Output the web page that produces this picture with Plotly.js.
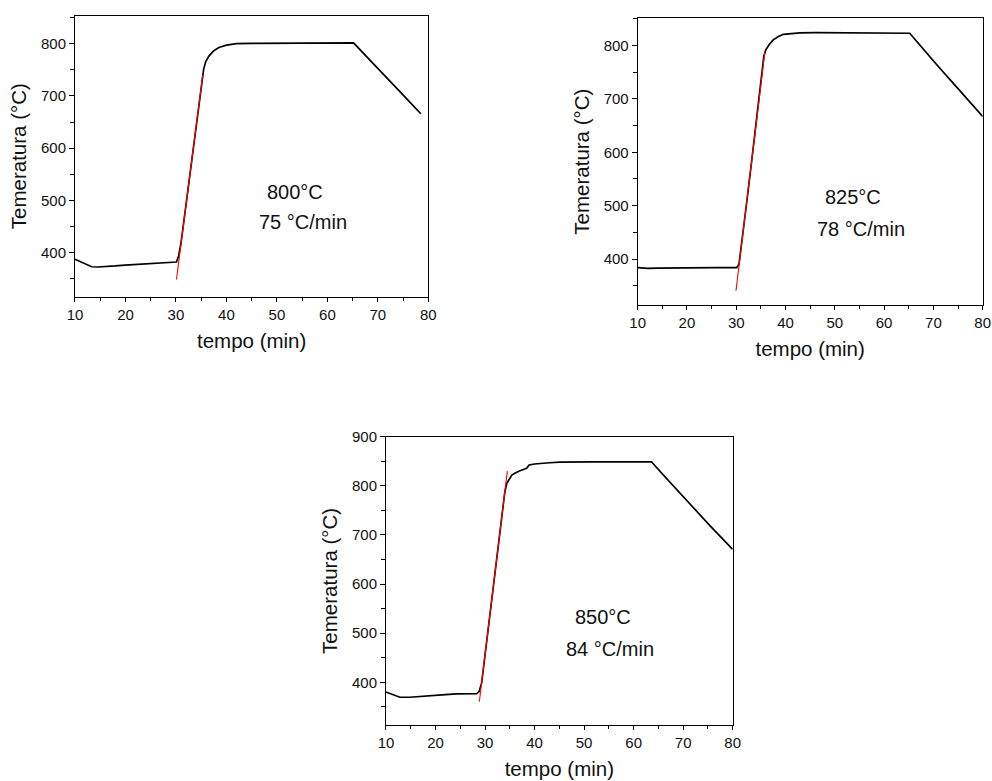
<!DOCTYPE html>
<html>
<head>
<meta charset="utf-8">
<script src="https://cdn.plot.ly/plotly-3.0.1.min.js"></script>
<style>html,body{margin:0;padding:0;background:#fff;}#chart{width:992px;height:781px;}</style>
</head>
<body>
<div id="chart"></div>
<script>
// Panel 1: 800 °C
const t1 = [10, 11.5, 13.3, 14.5, 16.3, 18, 19.9, 22, 24.9, 27.5, 30.1, 30.5, 31, 32, 33, 34, 35, 35.5, 35.9, 36.5, 37.4, 38.5, 40, 42, 45, 50, 55, 60, 65.2, 68, 70.5, 73, 75.5, 78.5];
const T1 = [387, 380, 372.5, 372, 372.5, 374, 375.6, 377, 379, 380.5, 381.5, 392, 418, 492, 567, 642, 718, 752, 766, 776, 786, 793, 797.5, 800.5, 801, 801.5, 802, 802, 802, 773, 747, 722, 697, 666];
const fitT1 = [30.1, 35.3];
const fitY1 = [348, 740];

// Panel 2: 825 °C
const t2 = [10, 12, 14, 17, 20, 23, 26, 29, 30.1, 30.55, 31, 32, 33, 34, 35, 35.6, 36, 36.7, 37.5, 38.5, 39.55, 41, 42.9, 46, 50, 55, 60, 65.2, 66.5, 68.6, 71, 74, 77.1, 80];
const T2 = [384, 382.5, 383, 383.5, 384, 384, 384, 384, 384, 390, 421, 497, 573, 650, 726, 780, 792, 802, 810.6, 816.5, 821, 822.5, 823.7, 824, 824, 824, 823.5, 823, 809, 785.6, 760.7, 729.5, 698, 667];
const fitT2 = [29.95, 35.83];
const fitY2 = [340.7, 790];

// Panel 3: 850 °C
const t3 = [10, 11.5, 12.8, 14.8, 17, 19.9, 22, 24.3, 26, 28.3, 28.8, 29.3, 30, 31, 32, 33, 34, 34.4, 35.4, 36.3, 37.05, 38.4, 38.9, 40, 41.1, 43, 45.1, 48, 51.9, 56, 60, 63.6, 66, 68.7, 72.05, 75.4, 80];
const T3 = [380.3, 375, 369.5, 369.5, 371.5, 373.5, 375, 376.3, 377, 377, 381, 398, 456, 539, 622, 705, 788, 805, 822, 827, 830.8, 835.6, 842.4, 844.5, 845.8, 847, 848.4, 849, 849, 849, 849, 849, 822, 792, 755, 719, 670.7];
const fitT3 = [28.85, 34.5];
const fitY3 = [360.7, 830];

const setLabels = ["800°C", "825°C", "850°C"];
const rateLabels = ["75 °C/min", "78 °C/min", "84 °C/min"];
const xTitle = "tempo (min)";
const yTitle = "Temeratura (°C)";
const xTicks = [10, 20, 30, 40, 50, 60, 70, 80];

const FONT = "Liberation Sans, Arial, sans-serif";

function curve(x, y, xa, ya) {
  return {x: x, y: y, xaxis: xa, yaxis: ya, mode: 'lines', type: 'scatter',
    line: {color: '#000000', width: 1.7}, hoverinfo: 'skip'};
}
function fit(x, y, xa, ya) {
  return {x: x, y: y, xaxis: xa, yaxis: ya, mode: 'lines', type: 'scatter',
    line: {color: '#ff0000', width: 1.1}, hoverinfo: 'skip'};
}

const data = [
  curve(t1, T1, 'x', 'y'), fit(fitT1, fitY1, 'x', 'y'),
  curve(t2, T2, 'x2', 'y2'), fit(fitT2, fitY2, 'x2', 'y2'),
  curve(t3, T3, 'x3', 'y3'), fit(fitT3, fitY3, 'x3', 'y3')
];

function xax(domain, anchor) {
  return {
    domain: domain, anchor: anchor, range: [10, 80], tickvals: xTicks,
    showline: true, linecolor: '#000', linewidth: 1, mirror: true,
    ticks: 'outside', ticklen: 4, tickcolor: '#000', tickwidth: 1,
    minor: {ticks: 'outside', ticklen: 3, dtick: 5, tick0: 10, tickcolor: '#000', showgrid: false},
    showgrid: false, zeroline: false,
    tickfont: {family: FONT, size: 15, color: '#111'},
    title: {text: xTitle, font: {family: FONT, size: 20.5, color: '#111'}, standoff: 11}
  };
}
function yax(domain, anchor, range) {
  return {
    domain: domain, anchor: anchor, range: range, dtick: 100, tick0: 0,
    showline: true, linecolor: '#000', linewidth: 1, mirror: true,
    ticks: 'outside', ticklen: 5, tickcolor: '#000', tickwidth: 1,
    minor: {ticks: 'outside', ticklen: 4, dtick: 50, tick0: 0, tickcolor: '#000', showgrid: false},
    showgrid: false, zeroline: false,
    tickfont: {family: FONT, size: 15, color: '#111'},
    title: {text: yTitle, font: {family: FONT, size: 20.5, color: '#111'}, standoff: 8}
  };
}

function ann(text, x, y, xr, yr) {
  return {text: text, x: x, y: y, xref: xr, yref: yr, showarrow: false,
    font: {family: FONT, size: 20, color: '#111'}, xanchor: 'center', yanchor: 'middle'};
}

const layout = {
  width: 992, height: 781,
  margin: {l: 0, r: 0, t: 0, b: 0},
  paper_bgcolor: '#fff', plot_bgcolor: '#fff',
  showlegend: false,
  xaxis: xax([0.0756, 0.4318], 'y'),
  yaxis: yax([0.6201, 0.9799], 'x', [315, 854]),
  xaxis2: xax([0.6428, 0.9906], 'y2'),
  yaxis2: yax([0.6095, 0.9766], 'x2', [314, 851]),
  xaxis3: xax([0.3891, 0.7386], 'y3'),
  yaxis3: yax([0.0717, 0.4408], 'x3', [313, 900]),
  annotations: [
    ann(setLabels[0], 53.6, 516, 'x', 'y'),
    ann(rateLabels[0], 55.1, 459, 'x', 'y'),
    ann(setLabels[1], 53.7, 517, 'x2', 'y2'),
    ann(rateLabels[1], 55.3, 457, 'x2', 'y2'),
    ann(setLabels[2], 53.8, 533, 'x3', 'y3'),
    ann(rateLabels[2], 55.2, 468, 'x3', 'y3')
  ]
};

Plotly.newPlot('chart', data, layout, {staticPlot: true, displayModeBar: false});
</script>
</body>
</html>
